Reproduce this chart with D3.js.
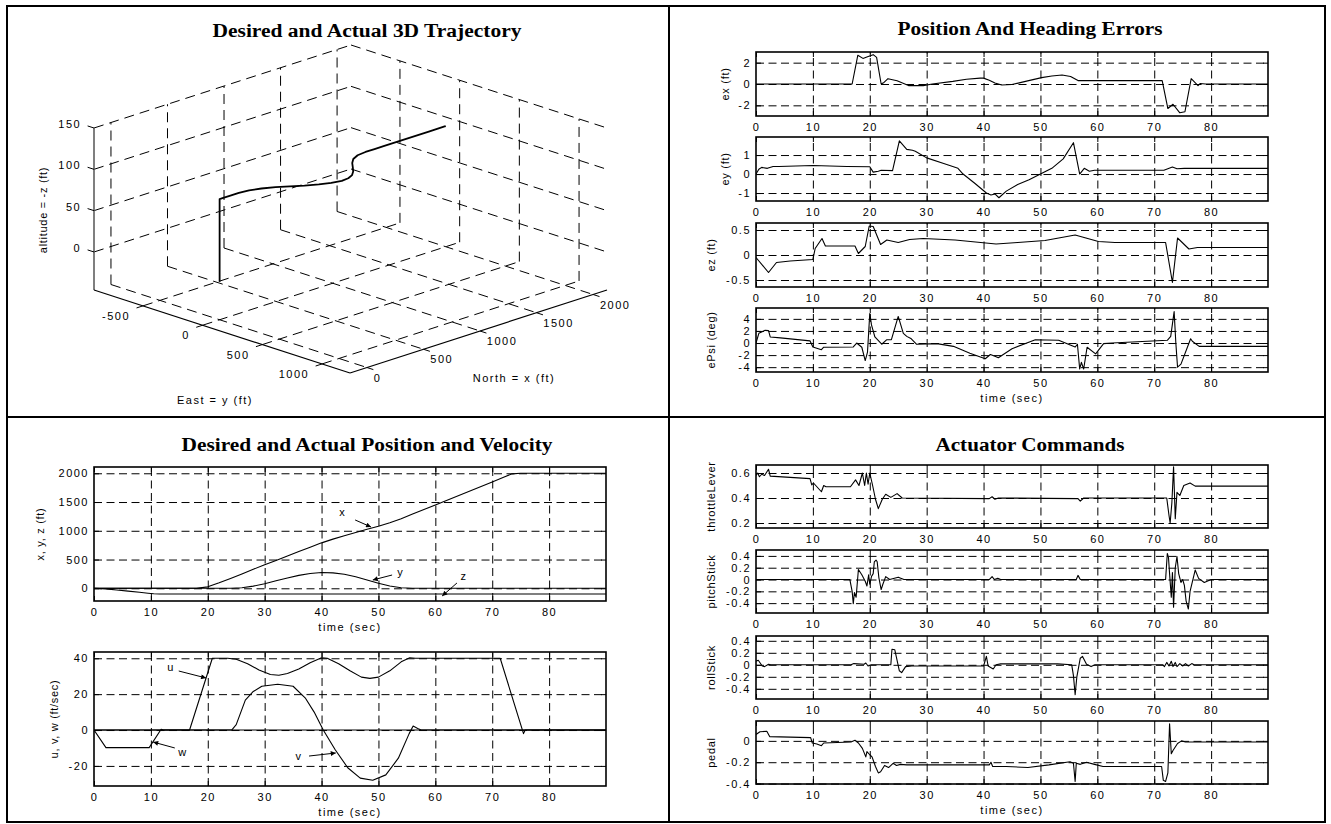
<!DOCTYPE html>
<html>
<head>
<meta charset="utf-8">
<script src="https://cdn.jsdelivr.net/npm/d3@7"></script>
<style>
  body { margin: 0; background: #fff; }
  svg { display: block; }
</style>
</head>
<body>
<svg id="fig" width="1331" height="824"></svg>
<script>
/* ---------------- data ---------------- */
const timeTicks = [0, 10, 20, 30, 40, 50, 60, 70, 80];

// position (ft), common time base
const posT = [0, 2, 4, 6, 8, 9.5, 10.5, 11.5, 12, 18, 20, 22, 24, 26, 28, 30, 32, 34, 36, 38, 40, 42, 44, 46, 48, 50, 52, 54, 56, 58, 60, 65, 70, 72, 73.5, 75, 90];
const posX = [0, 0, 0, 0, 0, 0, 0, 0, 0, 0, 25, 95, 170, 250, 330, 410, 485, 560, 640, 715, 790, 855, 915, 970, 1025, 1080, 1140, 1210, 1290, 1370, 1450, 1650, 1850, 1930, 1990, 2000, 2000];
const posY = [0, 0, 0, 0, 0, 0, 0, 0, 0, 0, 0, 0, 0, 10, 38, 80, 130, 180, 225, 258, 275, 268, 243, 200, 145, 88, 40, 10, 0, 0, 0, 0, 0, 0, 0, 0, 0];
const posZ = [0, -10, -30, -50, -70, -85, -94, -99, -100, -100, -100, -100, -100, -100, -100, -100, -100, -100, -100, -100, -100, -100, -100, -100, -100, -100, -100, -100, -100, -100, -100, -100, -100, -100, -100, -100, -100];

// body velocities (ft/sec) as [t, value]
const uVel = [[0,0],[16.8,0],[20.8,40],[23.5,40],[25,39.5],[27,37],[29,33.5],[31,31],[32.5,30.5],[34,31.5],[36,34],[38,37.5],[40,40.3],[41,40],[43,37],[45,33],[47,29.5],[48.5,28.8],[50,29.5],[52,33],[54,38],[55.5,40.3],[56.5,40],[71.4,40],[75.5,-2],[75.8,0],[90,0]];
const vVel = [[0,0],[24.2,0],[25,3],[26.6,16.7],[28,21.5],[29.5,24.4],[32.3,25.5],[35,24.4],[37.2,17.6],[38.7,10],[40.3,0],[42.4,-11],[44.6,-21],[46.8,-26.8],[49,-28],[51.3,-25],[53.5,-15.7],[55.4,-2],[56.1,2.2],[56.9,0.9],[57.5,0],[90,0]];
const wVel = [[0,0],[2.1,-9.8],[9.7,-9.8],[11.8,0.4],[12.2,0],[90,0]];

// position and heading errors
const exErr = [[0,0],[16.9,0],[17.9,2.7],[18.8,2.4],[19.6,2.55],[20.6,2.75],[21.2,2.5],[22,0],[22.5,0.15],[23.2,0.5],[24,0.4],[24.8,0.3],[26.8,-0.15],[29.4,-0.15],[31,0],[34.6,0.25],[37,0.45],[39.4,0.55],[40,0.55],[41,0.35],[42,0.1],[43.2,-0.1],[45,-0.05],[47,0.2],[50.2,0.6],[52,0.75],[53.8,0.85],[55.3,0.7],[56.6,0.32],[71.4,0.32],[72.4,-2.3],[73.3,-1.9],[74.5,-2.7],[75.4,-2.6],[76.5,0.5],[77.7,-0.15],[78.1,0.05],[79,0],[90,0]];
const eyErr = [[0,0],[0.5,0.25],[1,0.35],[2,0.3],[3,0.4],[4,0.4],[10,0.45],[16,0.4],[20,0.38],[20.6,0.1],[21.5,0.15],[22,0.2],[24,0.18],[25.2,1.75],[26.5,1.3],[27.5,1.25],[28,1.2],[30,0.85],[33,0.55],[35.5,0.3],[36.4,0],[38.5,-0.5],[40.5,-1.0],[41.3,-1.1],[42,-1.05],[42.7,-1.25],[44,-0.9],[46,-0.55],[48,-0.3],[50,0],[52,0.3],[54,0.8],[55.8,1.65],[56.9,0],[57.7,0.3],[58.6,0.15],[59.5,0.2],[71.7,0.2],[73.2,0.37],[74,0.28],[75.3,0.3],[90,0.3]];
const ezErr = [[0,-0.05],[2.2,-0.35],[3.6,-0.15],[6,-0.12],[10,-0.09],[10.4,0.13],[11.6,0.33],[12.2,0.18],[17.4,0.18],[18,0.03],[19.2,0.17],[19.9,0.58],[20.6,0.57],[21.9,0.21],[23,0.3],[25,0.25],[27,0.31],[29.4,0.33],[35,0.3],[42.2,0.22],[46,0.25],[50.8,0.29],[56.1,0.4],[60.2,0.27],[63.1,0.25],[72,0.25],[73.2,-0.55],[74.1,0.34],[76.1,0.12],[77.6,0.15],[90,0.15]];
const ePsiErr = [[0,0],[0.5,1.6],[1.6,2.1],[2.2,2.05],[2.5,1.0],[4.3,0.85],[9.5,0.35],[10,-0.67],[11.5,-1.1],[11.9,-0.7],[17.1,-0.65],[17.7,0],[18.6,-0.7],[19.2,-2.9],[19.6,-1.5],[20,4.9],[20.3,3],[20.9,1],[22.1,-0.2],[23,0.55],[23.8,0.55],[25,4.4],[25.9,1.6],[26.5,1.1],[27.3,0.7],[28.2,-0.2],[31.8,-0.1],[34.7,-0.55],[37.6,-1.7],[40.3,-2.6],[41.2,-1.9],[42,-2.2],[42.6,-2.45],[45,-0.95],[49.1,0.55],[53.2,0.45],[56.1,-0.67],[56.5,-0.2],[56.9,-4.3],[57.2,-3.2],[57.6,-4.3],[58.2,-0.7],[59.7,-1.8],[61.1,-0.1],[62.6,0],[72.3,0.45],[72.9,1.1],[73.5,5.2],[73.8,0],[74.1,-4],[74.7,-3.5],[76.4,0.7],[76.7,0.3],[77.9,-0.55],[90,-0.55]];

// actuator commands
const throttleLever = [[0,0.58],[0.3,0.6],[0.6,0.57],[1,0.59],[1.5,0.58],[2.2,0.63],[2.5,0.575],[9.5,0.555],[9.8,0.505],[10.1,0.52],[11.5,0.45],[11.9,0.5],[12.3,0.49],[16.6,0.49],[17.5,0.545],[18.1,0.5],[18.7,0.6],[19.1,0.5],[19.4,0.6],[19.7,0.51],[20,0.6],[20.5,0.5],[21,0.39],[21.5,0.315],[22.2,0.39],[22.8,0.43],[23.7,0.405],[24.8,0.435],[25.7,0.4],[41,0.395],[41.5,0.41],[42,0.39],[42.6,0.4],[56.6,0.395],[57,0.375],[57.6,0.4],[72.2,0.4],[72.6,0.26],[72.8,0.2],[73.1,0.36],[73.4,0.65],[73.7,0.235],[74,0.445],[74.5,0.42],[75.2,0.5],[76.3,0.52],[77.2,0.495],[90,0.495]];
const pitchStick = [[0,0],[16.5,0],[16.9,-0.2],[17.1,-0.41],[17.3,-0.22],[17.6,-0.3],[18,0.17],[18.6,0.08],[19.2,-0.03],[19.5,-0.11],[19.8,0.08],[20,-0.08],[20.3,0.05],[20.6,0.1],[20.8,0.3],[21.1,0.33],[21.3,0.3],[21.6,0.03],[22,-0.17],[22.3,-0.08],[22.8,0.05],[23.5,0],[25,0.04],[26,0],[41,0],[41.5,0.05],[41.9,0],[42.5,0.02],[43,0],[56.3,0],[56.6,0.07],[57,0],[72,0],[72.3,0.44],[72.5,0.38],[72.7,0.1],[73,-0.3],[73.2,0.12],[73.4,-0.47],[73.7,0.2],[74,0.39],[74.3,0.1],[74.7,-0.05],[75,0],[75.3,-0.1],[75.6,-0.36],[76,-0.5],[76.3,-0.2],[77.2,0.16],[77.8,0.02],[78.8,-0.05],[80,0],[90,0]];
const rollStick = [[0,0.06],[0.4,0.075],[1.1,-0.02],[1.5,-0.03],[2.2,0.01],[2.6,0],[16.7,0],[17.2,0.02],[19,0.01],[19.3,0.03],[19.7,-0.02],[20.3,0],[23.7,0],[23.9,0.26],[24.4,0.25],[25.2,-0.1],[25.6,-0.13],[26.3,-0.03],[27.4,-0.02],[40,-0.02],[40.5,0.14],[40.8,-0.02],[41.7,-0.07],[42.2,0],[43,0.015],[53,0.015],[55.5,0],[55.8,-0.18],[56.1,-0.5],[56.4,-0.2],[57,0.11],[57.4,0.14],[58.1,0.01],[58.9,-0.03],[59.6,0],[71.5,0],[71.8,-0.03],[72.2,0.04],[72.6,-0.02],[73,0.06],[73.3,-0.03],[73.7,0.04],[74,-0.03],[74.5,0.02],[75,-0.02],[75.5,0.02],[76,-0.02],[76.6,0.02],[77,0],[90,0]];
const pedal = [[0,0.06],[0.7,0.085],[1.9,0.09],[2.4,0.04],[9.6,0.03],[9.9,-0.02],[10.7,-0.03],[11.5,-0.045],[11.9,-0.02],[16.7,-0.01],[17.4,0.006],[18,-0.02],[18.7,-0.07],[19.3,-0.15],[19.5,-0.1],[20,-0.13],[20.4,-0.15],[21,-0.24],[21.5,-0.3],[21.9,-0.29],[22.6,-0.23],[23.3,-0.25],[24.1,-0.21],[24.7,-0.23],[25.4,-0.22],[26.5,-0.225],[41,-0.225],[41.3,-0.2],[41.6,-0.24],[44,-0.24],[47.8,-0.25],[51.5,-0.225],[55.2,-0.195],[55.8,-0.21],[56.1,-0.38],[56.3,-0.21],[57,-0.22],[58.1,-0.2],[59.5,-0.22],[61,-0.24],[71.3,-0.24],[71.6,-0.37],[72,-0.38],[72.4,-0.3],[72.7,0.16],[73,-0.12],[73.3,-0.09],[74.1,-0.025],[74.8,0],[75.5,-0.01],[90,-0.01]];

// annotation arrows, in data units [t, value]
const posNotes = [
  { text: "x", at: [43.6, 1327], from: [45.9, 1188], to: [48.7, 1066] },
  { text: "y", at: [53.8, 283], from: [52.4, 231], to: [49.0, 144] },
  { text: "z", at: [64.9, 214], from: [63.8, 92], to: [61.2, -134] }
];
const velNotes = [
  { text: "u", at: [13.4, 35.1], from: [14.9, 32.9], to: [19.7, 29.0] },
  { text: "w", at: [15.5, -12.3], from: [14.2, -10], to: [10.4, -6.7] },
  { text: "v", at: [35.9, -14.5], from: [37.8, -14.5], to: [42.5, -12.8] }
];

// 3D axes
const northLim = [-150, 2123], eastLim = [-910, 1234], altLim = [-46, 150];
const northTicks = [0, 500, 1000, 1500, 2000];
const eastTicks = [-500, 0, 500, 1000];
const altTicks = [0, 50, 100, 150];

const titles = [
  { text: "Desired and Actual 3D Trajectory", cx: 367, y: 37, len: 309 },
  { text: "Position And Heading Errors", cx: 1030, y: 35, len: 265 },
  { text: "Desired and Actual Position and Velocity", cx: 367, y: 451, len: 371 },
  { text: "Actuator Commands", cx: 1030, y: 451, len: 189 }
];

/* ---------------- drawing ---------------- */
const svg = d3.select("#fig");
const sans = "Arial, 'Liberation Sans', Helvetica, sans-serif";
const serif = "'Times New Roman', 'Liberation Serif', serif";
const gridDash = "8,4.5";

svg.append("defs").append("marker")
  .attr("id", "arr").attr("viewBox", "0 0 10 10")
  .attr("refX", 10).attr("refY", 5)
  .attr("markerWidth", 8).attr("markerHeight", 5)
  .attr("markerUnits", "userSpaceOnUse").attr("orient", "auto")
  .append("path").attr("d", "M0,0L10,5L0,10Z").attr("fill", "#000");

// frame
svg.append("rect").attr("x", 7).attr("y", 6).attr("width", 1318).attr("height", 816)
  .attr("fill", "none").attr("stroke", "#000").attr("stroke-width", 2);
svg.append("line").attr("x1", 669).attr("x2", 669).attr("y1", 6).attr("y2", 822)
  .attr("stroke", "#000").attr("stroke-width", 2);
svg.append("line").attr("x1", 7).attr("x2", 1325).attr("y1", 417).attr("y2", 417)
  .attr("stroke", "#000").attr("stroke-width", 2);

titles.forEach(t => {
  svg.append("text").attr("x", t.cx).attr("y", t.y)
    .attr("text-anchor", "middle").attr("font-family", serif)
    .attr("font-weight", "bold").attr("font-size", 18.5)
    .attr("textLength", t.len).attr("lengthAdjust", "spacingAndGlyphs")
    .text(t.text);
});

let clipId = 0;
function drawPanel(p) {
  const x = d3.scaleLinear().domain([0, 90]).range([p.x0, p.x1]);
  const y = d3.scaleLinear().domain(p.yDomain).range([p.y1, p.y0]);
  const w = p.x1 - p.x0, h = p.y1 - p.y0;
  const g = svg.append("g");

  // dashed grid
  g.append("g").attr("transform", `translate(0,${p.y1})`)
    .call(d3.axisBottom(x).tickValues(timeTicks.slice(1)).tickSize(-h).tickFormat(""))
    .call(a => a.select(".domain").remove())
    .selectAll("line").attr("stroke", "#000").attr("stroke-dasharray", gridDash);
  g.append("g").attr("transform", `translate(${p.x0},0)`)
    .call(d3.axisLeft(y).tickValues(p.yTicks).tickSize(-w).tickFormat(""))
    .call(a => a.select(".domain").remove())
    .selectAll("line").attr("stroke", "#000").attr("stroke-dasharray", gridDash);

  const ticks = (axis, tr) => {
    const a = g.append("g").attr("transform", tr).call(axis);
    a.select(".domain").remove();
    a.attr("font-family", sans).attr("font-size", 11);
    a.selectAll("line").attr("stroke", "#000");
    a.selectAll("text").attr("fill", "#000").attr("letter-spacing", "1.5px");
  };
  ticks(d3.axisBottom(x).tickValues(timeTicks).tickSize(-5).tickPadding(7).tickFormat(d3.format("d")), `translate(0,${p.y1})`);
  ticks(d3.axisTop(x).tickValues(timeTicks).tickSize(-5).tickFormat(""), `translate(0,${p.y0})`);
  ticks(d3.axisLeft(y).tickValues(p.yTicks).tickSize(-5).tickPadding(5).tickFormat(String), `translate(${p.x0},0)`);
  ticks(d3.axisRight(y).tickValues(p.yTicks).tickSize(-5).tickFormat(""), `translate(${p.x1},0)`);

  // data
  const id = "clip" + (clipId++);
  g.append("clipPath").attr("id", id).append("rect")
    .attr("x", p.x0).attr("y", p.y0).attr("width", w).attr("height", h);
  const line = d3.line().x(d => x(d[0])).y(d => y(d[1]));
  const lines = g.append("g").attr("clip-path", `url(#${id})`);
  p.series.forEach(s => {
    lines.append("path").datum(s).attr("d", line)
      .attr("fill", "none").attr("stroke", "#000").attr("stroke-width", 1.1)
      .attr("stroke-linejoin", "round");
  });

  // box
  g.append("rect").attr("x", p.x0).attr("y", p.y0).attr("width", w).attr("height", h)
    .attr("fill", "none").attr("stroke", "#000").attr("stroke-width", 1.6);

  // labels
  g.append("text")
    .attr("transform", `translate(${p.labelX},${(p.y0 + p.y1) / 2}) rotate(-90)`)
    .attr("text-anchor", "middle").attr("dominant-baseline", "central")
    .attr("font-family", sans).attr("font-size", 11).attr("letter-spacing", "0.7px")
    .text(p.label);
  if (p.xlabel) {
    g.append("text").attr("x", (p.x0 + p.x1) / 2).attr("y", p.y1 + 26)
      .attr("text-anchor", "middle").attr("dominant-baseline", "central")
      .attr("font-family", sans).attr("font-size", 11).attr("letter-spacing", "1.5px")
      .text("time (sec)");
  }

  // annotations
  (p.notes || []).forEach(n => {
    g.append("text").attr("x", x(n.at[0])).attr("y", y(n.at[1]))
      .attr("text-anchor", "middle").attr("dominant-baseline", "central")
      .attr("font-family", sans).attr("font-size", 11).text(n.text);
    g.append("line")
      .attr("x1", x(n.from[0])).attr("y1", y(n.from[1]))
      .attr("x2", x(n.to[0])).attr("y2", y(n.to[1]))
      .attr("stroke", "#000").attr("stroke-width", 1)
      .attr("marker-end", "url(#arr)");
  });
}

const pairs = vals => posT.map((t, i) => [t, vals[i]]);

// top right: errors
const errX = [756, 1268];
[
  { series: [exErr], yDomain: [-3, 3], yTicks: [-2, 0, 2], label: "ex (ft)", y0: 52, labelX: 725 },
  { series: [eyErr], yDomain: [-1.42, 1.95], yTicks: [-1, 0, 1], label: "ey (ft)", y0: 137, labelX: 725 },
  { series: [ezErr], yDomain: [-0.64, 0.64], yTicks: [-0.5, 0, 0.5], label: "ez (ft)", y0: 223, labelX: 711 },
  { series: [ePsiErr], yDomain: [-4.8, 5.8], yTicks: [-4, -2, 0, 2, 4], label: "ePsi (deg)", y0: 308, labelX: 711, xlabel: true }
].forEach(p => drawPanel(Object.assign(p, { x0: errX[0], x1: errX[1], y1: p.y0 + 64 })));

// bottom right: actuators
[
  { series: [throttleLever], yDomain: [0.16, 0.664], yTicks: [0.2, 0.4, 0.6], label: "throttleLever", y0: 465 },
  { series: [pitchStick], yDomain: [-0.567, 0.5], yTicks: [-0.4, -0.2, 0, 0.2, 0.4], label: "pitchStick", y0: 550 },
  { series: [rollStick], yDomain: [-0.57, 0.48], yTicks: [-0.4, -0.2, 0, 0.2, 0.4], label: "rollStick", y0: 636 },
  { series: [pedal], yDomain: [-0.404, 0.186], yTicks: [-0.4, -0.2, 0], label: "pedal", y0: 721, xlabel: true }
].forEach(p => drawPanel(Object.assign(p, { x0: errX[0], x1: errX[1], y1: p.y0 + 63, labelX: 711 })));

// bottom left: position and velocity
drawPanel({ series: [pairs(posX), pairs(posY), pairs(posZ)], yDomain: [-221, 2109],
  yTicks: [0, 500, 1000, 1500, 2000], label: "x, y, z (ft)", x0: 94, x1: 606, y0: 467, y1: 601,
  labelX: 40, xlabel: true, notes: posNotes });
drawPanel({ series: [uVel, vVel, wVel], yDomain: [-31.2, 43.5],
  yTicks: [-20, 0, 20, 40], label: "u, v, w (ft/sec)", x0: 94, x1: 606, y0: 652, y1: 786,
  labelX: 54, xlabel: true, notes: velNotes });

/* ---------------- 3D trajectory ---------------- */
const c3 = { L: [94, 290], B: [350, 373], R: [607, 290], T: [94, 128] };
const nS = d3.scaleLinear().domain(northLim).range([0, 1]);
const eS = d3.scaleLinear().domain(eastLim).range([0, 1]);
const aS = d3.scaleLinear().domain(altLim).range([0, 1]);
function proj(n, e, a) {
  const u = nS(n), v = eS(e), w = aS(a);
  return [
    c3.L[0] + u * (c3.R[0] - c3.B[0]) + v * (c3.B[0] - c3.L[0]) + w * (c3.T[0] - c3.L[0]),
    c3.L[1] + u * (c3.R[1] - c3.B[1]) + v * (c3.B[1] - c3.L[1]) + w * (c3.T[1] - c3.L[1])
  ];
}
const g3 = svg.append("g");
const seg = (p1, p2, dash, width, color) => g3.append("line")
  .attr("x1", p1[0]).attr("y1", p1[1]).attr("x2", p2[0]).attr("y2", p2[1])
  .attr("stroke", color || "#000").attr("stroke-width", width || 1)
  .attr("stroke-dasharray", dash ? "10,6" : null);
const [nLo, nHi] = northLim, [eLo, eHi] = eastLim, [aLo, aHi] = altLim;
const nSpan = nHi - nLo, eSpan = eHi - eLo;

// floor grid
northTicks.forEach(n => seg(proj(n, eLo, aLo), proj(n, eHi, aLo), true));
eastTicks.forEach(e => seg(proj(nLo, e, aLo), proj(nHi, e, aLo), true));
// back wall east = min
northTicks.forEach(n => seg(proj(n, eLo, aLo), proj(n, eLo, aHi), true));
altTicks.forEach(a => seg(proj(nLo, eLo, a), proj(nHi, eLo, a), true));
// back wall north = max
eastTicks.forEach(e => seg(proj(nHi, e, aLo), proj(nHi, e, aHi), true));
altTicks.forEach(a => seg(proj(nHi, eLo, a), proj(nHi, eHi, a), true));

// axis lines
seg(proj(nLo, eLo, aLo), proj(nLo, eLo, aHi), false, 1.5, "#555");
seg(proj(nLo, eLo, aLo), proj(nLo, eHi, aLo), false, 1.2);
seg(proj(nLo, eHi, aLo), proj(nHi, eHi, aLo), false, 1.2);

const label3 = (p, txt, anchor) => g3.append("text")
  .attr("x", p[0]).attr("y", p[1]).attr("text-anchor", anchor)
  .attr("dominant-baseline", "central").attr("font-family", sans)
  .attr("font-size", 11).attr("letter-spacing", "1.5px").text(txt);

altTicks.forEach(a => {
  seg(proj(nLo, eLo, a), proj(nLo, eLo - 0.025 * eSpan, a), false, 1);
  label3(proj(nLo, eLo - 0.05 * eSpan, a), String(a), "end");
});
eastTicks.forEach(e => {
  seg(proj(nLo, e, aLo), proj(nLo - 0.025 * nSpan, e, aLo), false, 1);
  const p = proj(nLo - 0.05 * nSpan, e, aLo);
  label3([p[0], p[1] + 6], String(e), "end");
});
northTicks.forEach(n => {
  seg(proj(n, eHi, aLo), proj(n, eHi + 0.025 * eSpan, aLo), false, 1);
  const p = proj(n, eHi + 0.05 * eSpan, aLo);
  label3([p[0] - 6, p[1] + 6], String(n), "start");
});

g3.append("text").attr("transform", "translate(43,210) rotate(-90)")
  .attr("text-anchor", "middle").attr("dominant-baseline", "central")
  .attr("font-family", sans).attr("font-size", 11).attr("letter-spacing", "0.7px")
  .text("altitude = -z (ft)");
label3([215, 400], "East = y (ft)", "middle");
label3([514, 378], "North = x (ft)", "middle");

const traj = posT.map((t, i) => proj(posX[i], posY[i], -posZ[i]));
g3.append("path").datum(traj).attr("d", d3.line())
  .attr("fill", "none").attr("stroke", "#000").attr("stroke-width", 1.8)
  .attr("stroke-linejoin", "round");
</script>
</body>
</html>
